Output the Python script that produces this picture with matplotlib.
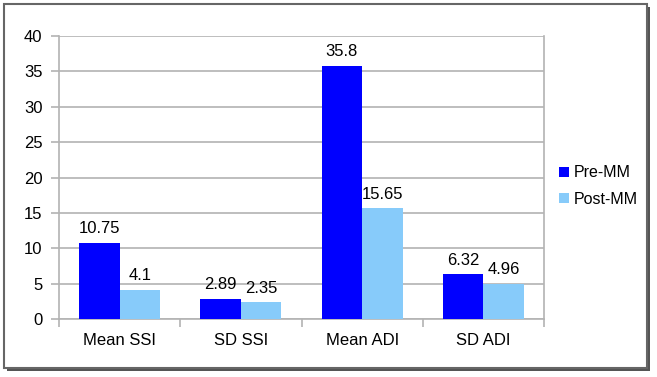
import matplotlib
matplotlib.use("Agg")
import matplotlib.pyplot as plt
from matplotlib.patches import Rectangle
import numpy as np

categories = ["Mean SSI", "SD SSI", "Mean ADI", "SD ADI"]
pre_mm = [10.75, 2.89, 35.8, 6.32]
post_mm = [4.1, 2.35, 15.65, 4.96]
series_names = ["Pre-MM", "Post-MM"]
yticks = [0, 5, 10, 15, 20, 25, 30, 35, 40]

plt.rcParams['font.family'] = ['Liberation Sans', 'DejaVu Sans']

W, H = 657, 377
fig = plt.figure(figsize=(W/100, H/100), dpi=100)

# outer frame with shadow
fig.patches.append(Rectangle((7/W, 1 - 371/H), 643/W, 364/H, transform=fig.transFigure,
                             facecolor="#555555", edgecolor="none", zorder=-3))
fig.patches.append(Rectangle((4/W, 1 - 368/H), 643/W, 364/H, transform=fig.transFigure,
                             facecolor="white", edgecolor="#666666", linewidth=1.5, zorder=-2))

ax = fig.add_axes([59/W, 1 - 319/H, (544-59)/W, (319-36)/H])
ax.set_facecolor("none")
x = np.arange(len(categories))
bw = 1/3
b1 = ax.bar(x - bw/2, pre_mm, bw, color="#0000FF", label=series_names[0], zorder=3)
b2 = ax.bar(x + bw/2, post_mm, bw, color="#87CBFA", label=series_names[1], zorder=3)

for bars, vals in ((b1, pre_mm), (b2, post_mm)):
    for r, v in zip(bars, vals):
        ax.text(r.get_x() + r.get_width()/2, v + 0.95, f"{v:g}", ha="center", va="bottom",
                fontsize=12, color="black")

ax.set_xlim(-0.5, len(categories) - 0.5)
ax.set_ylim(0, 40)
ax.set_yticks(yticks)
ax.set_yticklabels([str(t) for t in yticks], fontsize=12)
ax.yaxis.grid(True, color="#b3b3b3", linewidth=1.2, zorder=0)
ax.set_axisbelow(True)

ax.set_xticks(np.arange(-0.5, len(categories) + 0.5, 1))
ax.set_xticklabels([])
ax.set_xticks(x, minor=True)
ax.set_xticklabels(categories, minor=True, fontsize=12)
ax.tick_params(axis="x", which="minor", length=0, pad=10)
ax.tick_params(axis="x", which="major", length=6, color="#b3b3b3", width=1.2)
ax.tick_params(axis="y", length=6, color="#b3b3b3", width=1.2, pad=6)

for s in ["top"]:
    ax.spines[s].set_visible(False)
for s in ["left", "bottom", "right"]:
    ax.spines[s].set_color("#b3b3b3")
    ax.spines[s].set_linewidth(1.2)

leg = ax.legend(loc="center left", bbox_to_anchor=((559-59)/(544-59), 0.47), frameon=False,
                fontsize=11.5, handlelength=0.6, handleheight=0.6, handletextpad=0.3,
                labelspacing=0.7, borderaxespad=0, borderpad=0)

fig.savefig("out.png", dpi=100)
